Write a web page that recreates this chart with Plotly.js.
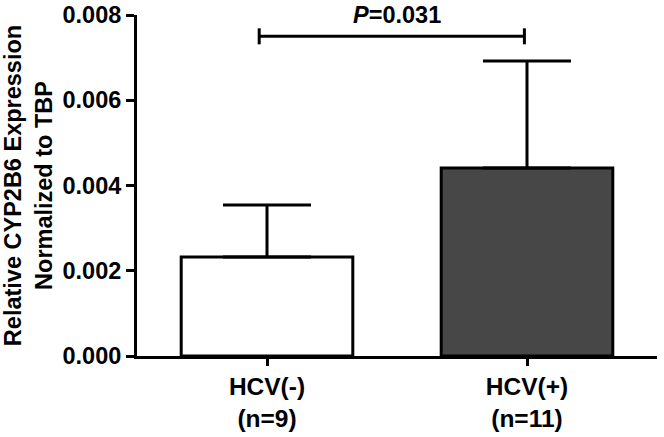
<!DOCTYPE html>
<html>
<head>
<meta charset="utf-8">
<script src="https://cdn.plot.ly/plotly-3.0.1.min.js"></script>
<style>
  html, body { margin: 0; padding: 0; background: #fff; }
  #chart { width: 664px; height: 437px; }
</style>
</head>
<body>
<div id="chart"></div>
<script>
// ---- data ----
const categories = ["HCV(-)", "HCV(+)"];
const sampleSizes = ["(n=9)", "(n=11)"];
const meanValues = [0.00232, 0.00441];
const sdValues = [0.00122, 0.00251];
const barColors = ["#ffffff", "#474747"];
const yTickValues = [0, 0.002, 0.004, 0.006, 0.008];
const yTickLabels = ["0.000", "0.002", "0.004", "0.006", "0.008"];
const pValueText = "P=0.031";
const bracketLevel = 0.0075;

const FONT = "Liberation Sans, Arial, sans-serif";

const tickText = categories.map((c, i) => c + "<br>" + sampleSizes[i]);

const trace = {
  type: "bar",
  x: categories,
  y: meanValues,
  width: 0.66,
  marker: { color: barColors, line: { color: "#000", width: 3 } },
  error_y: {
    type: "data",
    symmetric: false,
    array: sdValues,
    arrayminus: sdValues.map(() => 0),
    color: "#000",
    thickness: 3,
    width: 44
  },
  hoverinfo: "skip"
};

const layout = {
  width: 664,
  height: 437,
  margin: { l: 137, r: 7, t: 15, b: 81 },
  paper_bgcolor: "#fff",
  plot_bgcolor: "#fff",
  showlegend: false,
  font: { family: FONT, color: "#000" },
  xaxis: {
    type: "category",
    range: [-0.5, 1.5],
    tickvals: categories,
    ticktext: tickText,
    showline: true,
    linecolor: "#000",
    linewidth: 3,
    ticks: "outside",
    ticklen: 7,
    tickwidth: 3,
    tickcolor: "#000",
    showgrid: false,
    zeroline: false,
    tickfont: { family: FONT, size: 24.5, weight: "bold", color: "#000" },
    fixedrange: true
  },
  yaxis: {
    range: [0, 0.008],
    tickvals: yTickValues,
    ticktext: yTickLabels,
    showline: true,
    linecolor: "#000",
    linewidth: 3,
    ticks: "outside",
    ticklen: 8,
    tickwidth: 3,
    tickcolor: "#000",
    showgrid: false,
    zeroline: false,
    tickfont: { family: FONT, size: 23.5, weight: "bold", color: "#000" },
    title: {
      text: "Relative CYP2B6 Expression<br>Normalized to TBP",
      font: { family: FONT, size: 23.5, weight: "bold", color: "#000" },
      standoff: 10
    },
    fixedrange: true
  },
  shapes: [
    { type: "line", xref: "x", yref: "y", x0: -0.03, x1: 0.99, y0: bracketLevel, y1: bracketLevel,
      line: { color: "#000", width: 3 } },
    { type: "line", xref: "x", yref: "y", ysizemode: "pixel", yanchor: bracketLevel,
      x0: -0.03, x1: -0.03, y0: -8, y1: 8, line: { color: "#000", width: 3 } },
    { type: "line", xref: "x", yref: "y", ysizemode: "pixel", yanchor: bracketLevel,
      x0: 0.99, x1: 0.99, y0: -8, y1: 8, line: { color: "#000", width: 3 } }
  ],
  annotations: [
    {
      xref: "x", yref: "y", x: 0.5, y: bracketLevel,
      text: "<i>P</i>" + pValueText.slice(1),
      showarrow: false,
      yanchor: "middle",
      yshift: 21,
      font: { family: FONT, size: 23.5, weight: "bold", color: "#000" }
    }
  ]
};

Plotly.newPlot("chart", [trace], layout, { displayModeBar: false, staticPlot: true });
</script>
</body>
</html>
